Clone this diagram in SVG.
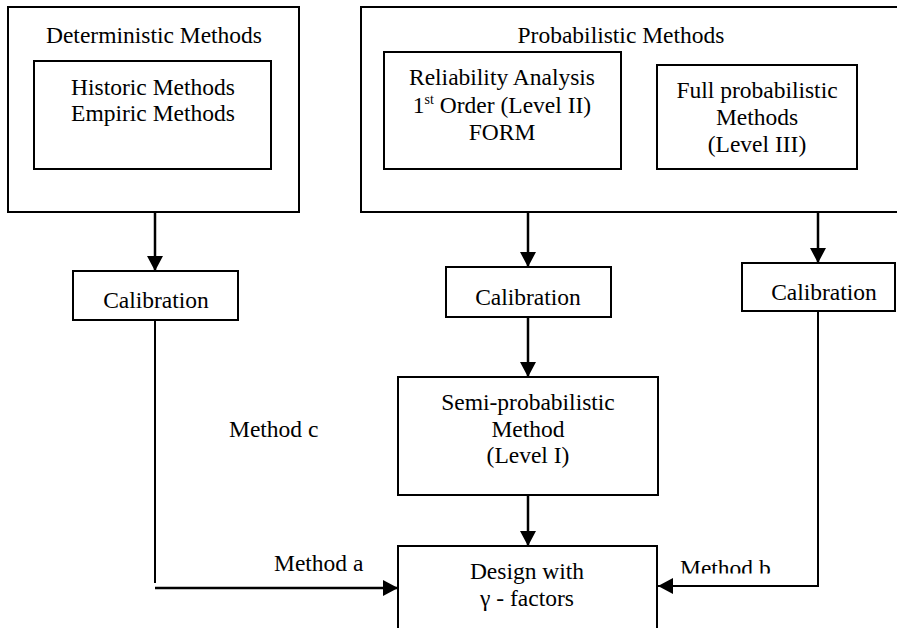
<svg xmlns="http://www.w3.org/2000/svg" width="897" height="628" viewBox="0 0 897 628" font-family="Liberation Serif, DejaVu Serif, serif">
  <style>
    .box { fill: #fff; stroke: #000; stroke-width: 2; }
    .frame { fill: none; stroke: #000; stroke-width: 2; }
    text { font-family: "Liberation Serif", "DejaVu Serif", serif; font-size: 23.5px; fill: #000; }
    .c { text-anchor: middle; }
    .wire { fill: none; stroke: #000; stroke-width: 2.5; }
    .thin { fill: none; stroke: #000; stroke-width: 2; }
  </style>
  <defs>
    <marker id="head" markerUnits="userSpaceOnUse" markerWidth="16" markerHeight="16" refX="15" refY="8" orient="auto">
      <path d="M0,0 L15,8 L0,16 Z" fill="#000"/>
    </marker>
    <clipPath id="cutB">
      <rect x="660" y="540" width="200" height="33.5"/>
    </clipPath>
  </defs>

  <rect width="897" height="628" fill="#fff"/>

  <!-- deterministic group -->
  <g id="deterministic">
    <rect class="frame" x="8" y="7" width="291" height="205"/>
    <text class="c" x="154" y="43">Deterministic Methods</text>
  </g>
  <g id="historic">
    <rect class="box" x="34" y="61" width="237" height="108"/>
    <text class="c" x="153" y="95">Historic Methods</text>
    <text class="c" x="153" y="121">Empiric Methods</text>
  </g>

  <!-- probabilistic group -->
  <g id="probabilistic">
    <rect class="frame" x="361" y="7" width="545" height="205"/>
    <text class="c" x="621" y="43">Probabilistic Methods</text>
  </g>
  <g id="reliability">
    <rect class="box" x="384" y="52" width="237" height="117"/>
    <text class="c" x="502" y="85">Reliability Analysis</text>
    <text class="c" x="502" y="113">1<tspan font-size="14" dy="-9">st</tspan><tspan dy="9"> Order (Level II)</tspan></text>
    <text class="c" x="502" y="140">FORM</text>
  </g>
  <g id="full-probabilistic">
    <rect class="box" x="657" y="65" width="200" height="104"/>
    <text class="c" x="757" y="98">Full probabilistic</text>
    <text class="c" x="757" y="125">Methods</text>
    <text class="c" x="757" y="152">(Level III)</text>
  </g>

  <!-- calibration steps -->
  <g id="calibration-left">
    <rect class="box" x="73" y="271" width="165" height="49"/>
    <text class="c" x="156" y="308">Calibration</text>
  </g>
  <g id="calibration-mid">
    <rect class="box" x="446" y="267" width="165" height="50"/>
    <text class="c" x="528" y="305">Calibration</text>
  </g>
  <g id="calibration-right">
    <rect class="box" x="742" y="263" width="153" height="48"/>
    <text class="c" x="824" y="300">Calibration</text>
  </g>

  <g id="semi-probabilistic">
    <rect class="box" x="398" y="377" width="260" height="118"/>
    <text class="c" x="528" y="410">Semi-probabilistic</text>
    <text class="c" x="528" y="437">Method</text>
    <text class="c" x="528" y="463">(Level I)</text>
  </g>

  <g id="design">
    <rect class="box" x="398" y="546" width="259" height="100"/>
    <text class="c" x="527" y="579">Design with</text>
    <text class="c" x="527" y="606">γ - factors</text>
  </g>

  <!-- connectors -->
  <g id="connectors">
    <line class="wire" x1="155" y1="212" x2="155" y2="271" marker-end="url(#head)"/>
    <line class="wire" x1="528" y1="212" x2="528" y2="267" marker-end="url(#head)"/>
    <line class="wire" x1="818" y1="212" x2="818" y2="263" marker-end="url(#head)"/>
    <line class="wire" x1="528" y1="317" x2="528" y2="377" marker-end="url(#head)"/>
    <line class="wire" x1="528" y1="495" x2="528" y2="546" marker-end="url(#head)"/>
    <!-- method a -->
    <line class="thin" x1="155" y1="320" x2="155" y2="583"/>
    <line class="wire" x1="155" y1="588" x2="398" y2="588" marker-end="url(#head)"/>
    <!-- method b -->
    <polyline class="thin" points="818,311 818,586 658,586" marker-end="url(#head)"/>
  </g>

  <!-- route labels -->
  <g id="labels">
    <text x="229" y="437">Method c</text>
    <text x="274" y="571">Method a</text>
    <text x="680" y="576" clip-path="url(#cutB)">Method b</text>
  </g>
</svg>
